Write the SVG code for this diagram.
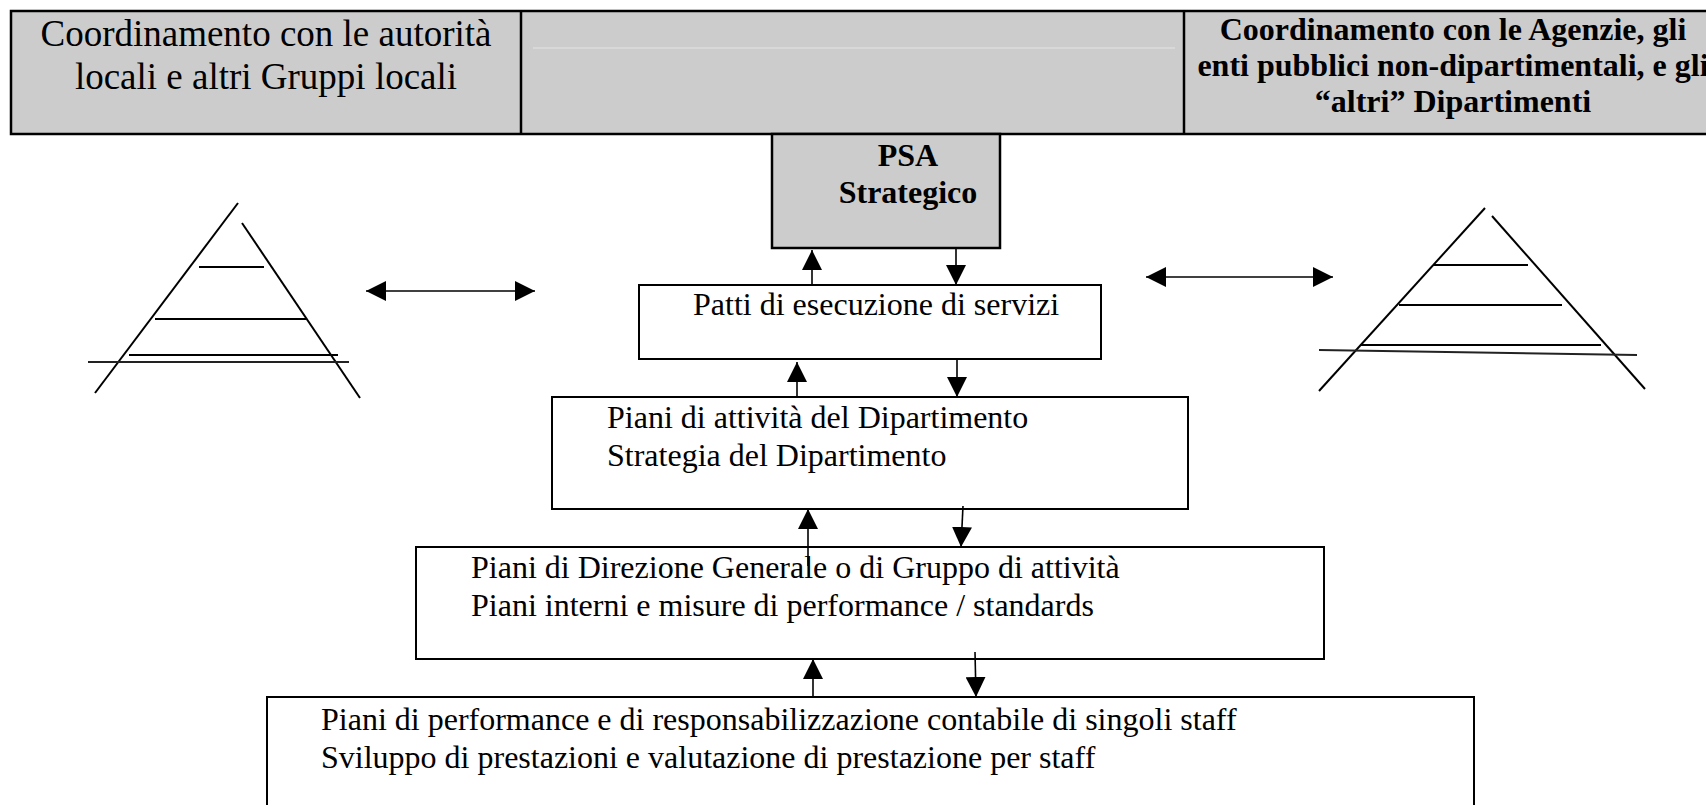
<svg xmlns="http://www.w3.org/2000/svg" width="1706" height="805" viewBox="0 0 1706 805">
<style>
.box{fill:#fff;stroke:#000;stroke-width:2}
.gray{fill:#ccc;stroke:#000;stroke-width:2.5}
.t{font-family:"Liberation Serif","Times New Roman",serif;fill:#000}
.b{font-weight:bold}
.conn{stroke:#000;stroke-width:1.6;fill:none}
.pyr{stroke:#000;stroke-width:2;fill:none}
</style>
<defs>
<marker id="ah" viewBox="0 0 20 20" markerWidth="20" markerHeight="20" refX="20" refY="10" orient="auto-start-reverse" markerUnits="userSpaceOnUse">
<path d="M0,0 L20,10 L0,20 z" fill="#000"/>
</marker>
</defs>

<g id="banner">
<rect class="gray" x="11" y="11" width="1712" height="123"/>
<line x1="521" y1="11" x2="521" y2="134" stroke="#000" stroke-width="2.5"/>
<line x1="1184" y1="11" x2="1184" y2="134" stroke="#000" stroke-width="2.5"/>
<line x1="533" y1="48" x2="1175" y2="48" stroke="#e4e4e4" stroke-width="1.2"/>
</g>
<g id="local">
<text class="t" font-size="37" text-anchor="middle" x="266" y="46">Coordinamento con le autorità</text>
<text class="t" font-size="37" text-anchor="middle" x="266" y="89">locali e altri Gruppi locali</text>
</g>
<g id="agencies">
<text class="t b" font-size="32" text-anchor="middle" x="1453" y="40">Coordinamento con le Agenzie, gli</text>
<text class="t b" font-size="32" text-anchor="middle" x="1453" y="76">enti pubblici non-dipartimentali, e gli</text>
<text class="t b" font-size="32" text-anchor="middle" x="1453" y="112">“altri” Dipartimenti</text>
</g>

<g id="psa">
<rect class="gray" x="772" y="134" width="228" height="114" stroke-width="2"/>
<text class="t b" font-size="32" text-anchor="middle" x="908" y="166">PSA</text>
<text class="t b" font-size="32" text-anchor="middle" x="908" y="203">Strategico</text>
</g>

<g id="patti">
<rect class="box" x="639" y="285" width="462" height="74"/>
<text class="t" font-size="32" x="693" y="315">Patti di esecuzione di servizi</text>
</g>

<g id="dipartimento">
<rect class="box" x="552" y="397" width="636" height="112"/>
<text class="t" font-size="32" x="607" y="428">Piani di attività del Dipartimento</text>
<text class="t" font-size="32" x="607" y="466">Strategia del Dipartimento</text>
</g>

<g id="direzione">
<rect class="box" x="416" y="547" width="908" height="112"/>
<text class="t" font-size="32" x="471" y="578">Piani di Direzione Generale o di Gruppo di attività</text>
<text class="t" font-size="32" x="471" y="616">Piani interni e misure di performance / standards</text>
</g>

<g id="staff">
<rect class="box" x="267" y="697" width="1207" height="130"/>
<text class="t" font-size="32" x="321" y="730">Piani di performance e di responsabilizzazione contabile di singoli staff</text>
<text class="t" font-size="32" x="321" y="768">Sviluppo di prestazioni e valutazione di prestazione per staff</text>
</g>

<g id="pyramid-left" class="pyr">
<line x1="238" y1="203" x2="95" y2="393"/>
<line x1="242" y1="223" x2="360" y2="398"/>
<line x1="199" y1="267" x2="264" y2="267"/>
<line x1="155" y1="319" x2="306" y2="319"/>
<line x1="129" y1="355" x2="338" y2="355"/>
<line x1="88" y1="362" x2="349" y2="362" stroke="#222"/>
</g>

<g id="pyramid-right" class="pyr">
<line x1="1485" y1="208" x2="1319" y2="391"/>
<line x1="1492" y1="216" x2="1645" y2="389"/>
<line x1="1433" y1="265" x2="1528" y2="265"/>
<line x1="1399" y1="305" x2="1562" y2="305"/>
<line x1="1360" y1="345" x2="1601" y2="345"/>
<line x1="1319" y1="350" x2="1637" y2="355" stroke="#222"/>
</g>

<g id="connectors" class="conn">
<line x1="366" y1="291" x2="535" y2="291" marker-start="url(#ah)" marker-end="url(#ah)"/>
<line x1="1146" y1="277" x2="1333" y2="277" marker-start="url(#ah)" marker-end="url(#ah)"/>
<line x1="812" y1="285" x2="812" y2="250" marker-end="url(#ah)"/>
<line x1="956" y1="247" x2="956" y2="285" marker-end="url(#ah)"/>
<line x1="797" y1="397" x2="797" y2="362" marker-end="url(#ah)"/>
<line x1="957" y1="359" x2="957" y2="397" marker-end="url(#ah)"/>
<line x1="808" y1="566" x2="808" y2="509" marker-end="url(#ah)"/>
<line x1="963" y1="506" x2="961" y2="547" marker-end="url(#ah)"/>
<line x1="813" y1="697" x2="813" y2="659" marker-end="url(#ah)"/>
<line x1="975" y1="652" x2="976" y2="697" marker-end="url(#ah)"/>
</g>
</svg>
